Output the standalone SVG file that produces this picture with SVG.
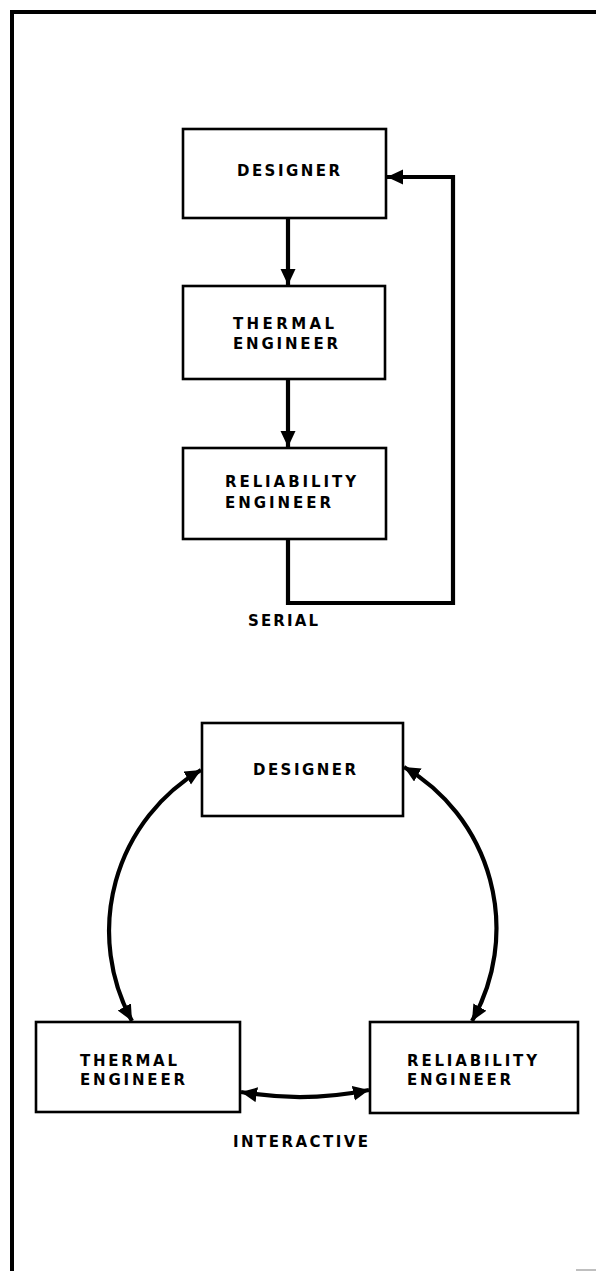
<svg xmlns="http://www.w3.org/2000/svg" width="596" height="1271" viewBox="0 0 596 1271">
<style>
.box{fill:#fff;stroke:#000;stroke-width:2.6}
.lbl{font-family:"DejaVu Sans","Liberation Sans",Arial,sans-serif;font-size:15px;fill:#000;font-weight:bold}
.con{fill:none;stroke:#000;stroke-width:4.2}
.frame{fill:none;stroke:#000;stroke-width:4}
</style>
<defs>
<marker id="ah" markerUnits="userSpaceOnUse" markerWidth="18" markerHeight="16" refX="16" refY="7.5" orient="auto-start-reverse">
<path d="M0,0 L16,7.5 L0,15 z" fill="#000"/>
</marker>
</defs>
<rect width="596" height="1271" fill="#fff"/>
<g id="frame">
<path class="frame" d="M12,1271 L12,12 L596,12"/>
<line x1="576" y1="1270" x2="596" y2="1270" stroke="#aaa" stroke-width="1.5"/>
</g>
<g id="connectors">
<line class="con" x1="288" y1="218" x2="288" y2="285" marker-end="url(#ah)"/>
<line class="con" x1="288" y1="379" x2="288" y2="447" marker-end="url(#ah)"/>
<path class="con" d="M288,539 L288,603 L453,603 L453,177 L387,177" marker-end="url(#ah)"/>
<path class="con" d="M132,1021 A184,186 0 0,1 201,770" marker-start="url(#ah)" marker-end="url(#ah)"/>
<path class="con" d="M404,767 A184,186 0 0,1 472,1021" marker-start="url(#ah)" marker-end="url(#ah)"/>
<path class="con" d="M241,1092 Q305,1103 369,1090" marker-start="url(#ah)" marker-end="url(#ah)"/>
</g>
<g id="serial-designer">
<rect class="box" x="183" y="129" width="203" height="89"/>
<text class="lbl" x="237" y="176" textLength="103" lengthAdjust="spacing">DESIGNER</text>
</g>
<g id="serial-thermal">
<rect class="box" x="183" y="286" width="202" height="93"/>
<text class="lbl" x="233" y="329" textLength="101" lengthAdjust="spacing">THERMAL</text>
<text class="lbl" x="233" y="349" textLength="105" lengthAdjust="spacing">ENGINEER</text>
</g>
<g id="serial-reliability">
<rect class="box" x="183" y="448" width="203" height="91"/>
<text class="lbl" x="225" y="487" textLength="131" lengthAdjust="spacing">RELIABILITY</text>
<text class="lbl" x="225" y="508" textLength="106" lengthAdjust="spacing">ENGINEER</text>
</g>
<g id="serial-label">
<text class="lbl" x="248" y="626" textLength="70" lengthAdjust="spacing">SERIAL</text>
</g>
<g id="int-designer">
<rect class="box" x="202" y="723" width="201" height="93"/>
<text class="lbl" x="253" y="775" textLength="103" lengthAdjust="spacing">DESIGNER</text>
</g>
<g id="int-thermal">
<rect class="box" x="36" y="1022" width="204" height="90"/>
<text class="lbl" x="80" y="1066" textLength="97" lengthAdjust="spacing">THERMAL</text>
<text class="lbl" x="80" y="1085" textLength="105" lengthAdjust="spacing">ENGINEER</text>
</g>
<g id="int-reliability">
<rect class="box" x="370" y="1022" width="208" height="91"/>
<text class="lbl" x="407" y="1066" textLength="130" lengthAdjust="spacing">RELIABILITY</text>
<text class="lbl" x="407" y="1085" textLength="104" lengthAdjust="spacing">ENGINEER</text>
</g>
<g id="int-label">
<text class="lbl" x="233" y="1147" textLength="135" lengthAdjust="spacing">INTERACTIVE</text>
</g>
</svg>
